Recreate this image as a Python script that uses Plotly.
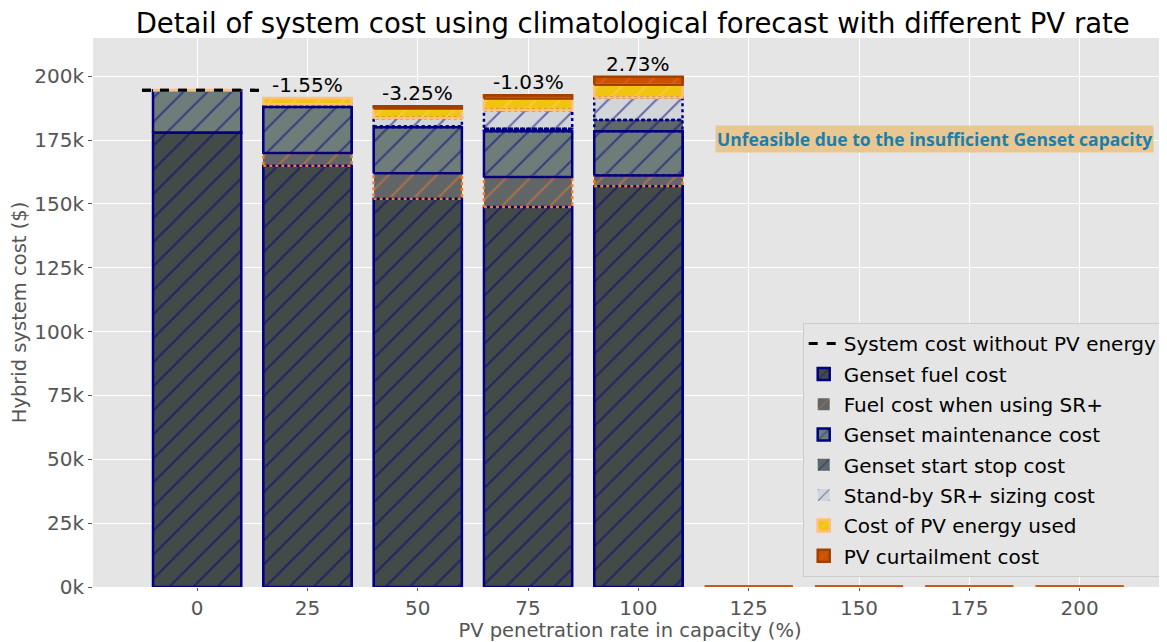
import plotly.graph_objects as go

# ---------------- data (thousands of $) ----------------
rates = [0, 25, 50, 75, 100, 125, 150, 175, 200]
rate_labels = ["0", "25", "50", "75", "100", "125", "150", "175", "200"]
fuel = [177.9, 165.0, 152.0, 148.8, 156.9, 0, 0, 0, 0]
fuel_sr = [0, 5.0, 10.0, 11.8, 4.3, 0, 0, 0, 0]
maint = [16.6, 18.0, 18.0, 17.9, 17.3, 0, 0, 0, 0]
startstop = [0, 0.3, 0.3, 1.0, 4.4, 0, 0, 0, 0]
standby = [0, 0.8, 3.4, 7.3, 8.8, 0, 0, 0, 0]
pv_used = [0, 2.4, 3.7, 4.5, 5.0, 0, 0, 0, 0]
curtail = [0, 0, 0.8, 1.2, 3.1, 0, 0, 0, 0]
base_cost = 194.5
pct_labels = ["", "-1.55%", "-3.25%", "-1.03%", "2.73%", "", "", "", ""]
y_ticks = [0, 25, 50, 75, 100, 125, 150, 175, 200]
y_tick_labels = ["0k", "25k", "50k", "75k", "100k", "125k", "150k", "175k", "200k"]
ref_line_x = [-12.5, 15]
note_text = "Unfeasible due to the insufficient Genset capacity"
note_pos = (167.2, 175.3)

NAVY = "#000080"
ORANGE = "#ed7d31"
BAR_W = 20

series = [
    # name, values, fill, edge, hatch, dotted
    ("Genset fuel cost", fuel, "#434b49", NAVY, NAVY, False),
    ("Fuel cost when using SR+", fuel_sr, "#626565", ORANGE, ORANGE, True),
    ("Genset maintenance cost", maint, "#6e7c7a", NAVY, NAVY, False),
    ("Genset start stop cost", startstop, "#5e6868", NAVY, NAVY, True),
    ("Stand-by SR+ sizing cost", standby, "#d2d6d8", NAVY, NAVY, True),
    ("Cost of PV energy used", pv_used, "#f2c40f", "#fdc07a", "#f8d860", False),
    ("PV curtailment cost", curtail, "#cc5000", "#a34000", "#e07030", False),
]

fig = go.Figure()

# reference dashed line (legend first)
fig.add_trace(go.Scatter(
    x=ref_line_x, y=[base_cost * 1000] * 2, mode="lines",
    line=dict(color="black", width=3, dash="dash"),
    name="System cost without PV energy", legendgroup="g0", showlegend=True,
))

cum = [0.0] * len(rates)
outlines = []
for k, (name, vals, fill, edge, hatch, dotted) in enumerate(series):
    fig.add_trace(go.Bar(
        x=rates, y=[v * 1000 for v in vals], width=BAR_W, name=name,
        legendgroup=f"g{k+1}",
        marker=dict(
            color=fill,
            line=dict(color=edge, width=0 if dotted else 2.5),
            pattern=dict(shape="/", fgcolor=hatch, size=17, solidity=0.12),
        ),
    ))
    xs, ys = [], []
    for i, r in enumerate(rates):
        if vals[i] > 0:
            b, t = cum[i] * 1000, (cum[i] + vals[i]) * 1000
            xs += [r - BAR_W / 2, r + BAR_W / 2, r + BAR_W / 2, r - BAR_W / 2, r - BAR_W / 2, None]
            ys += [b, b, t, t, b, None]
    outlines.append((xs, ys, edge, dotted))
    cum = [c + v for c, v in zip(cum, vals)]

# outlines drawn in stacking order (later segments over earlier ones)
for xs, ys, edge, dotted in outlines:
    fig.add_trace(go.Scatter(x=xs, y=ys, mode="lines", showlegend=False,
                             line=dict(color=edge, width=2.5, dash="dot" if dotted else "solid"),
                             hoverinfo="skip"))

# edges of zero-height bars
xs, ys = [], []
for i, r in enumerate(rates):
    if cum[i] == 0:
        xs += [r - BAR_W / 2, r + BAR_W / 2, None]
        ys += [0, 0, None]
fig.add_trace(go.Scatter(x=xs, y=ys, mode="lines", showlegend=False,
                         line=dict(color="#c85a1a", width=4), hoverinfo="skip"))
xs, ys = [], []
for i, r in enumerate(rates):
    if cum[i] > 0 and pv_used[i] == 0:
        xs += [r - BAR_W / 2, r + BAR_W / 2, None]
        ys += [cum[i] * 1000, cum[i] * 1000, None]
fig.add_trace(go.Scatter(x=xs, y=ys, mode="lines", showlegend=False,
                         line=dict(color="#fdc07a", width=3), hoverinfo="skip"))
# dashed line on top
fig.add_trace(go.Scatter(
    x=ref_line_x, y=[base_cost * 1000] * 2, mode="lines",
    line=dict(color="black", width=3, dash="dash"), showlegend=False, hoverinfo="skip",
))

for i, r in enumerate(rates):
    if pct_labels[i]:
        fig.add_annotation(x=r, y=cum[i] * 1000, text=pct_labels[i], showarrow=False,
                           yanchor="bottom", yshift=-1,
                           font=dict(family="DejaVu Sans", size=20, color="black"))

fig.add_annotation(x=note_pos[0], y=note_pos[1] * 1000, text="<b>" + note_text + "</b>",
                   showarrow=False, bgcolor="#e9c793", borderpad=1,
                   font=dict(family="Open Sans", size=17.5, color="#1b7fad"))

# page body has an 8px margin: size/margins compensate for it
fig.update_layout(
    width=1159, height=634,
    margin=dict(l=85, r=0, t=30, b=55),
    paper_bgcolor="white", plot_bgcolor="#E5E5E5",
    barmode="stack", bargap=0,
    font=dict(family="DejaVu Sans", color="#555555"),
    title=dict(text="Detail of system cost using climatological forecast with different PV rate",
               x=0.539, xanchor="center", y=0.975, yanchor="middle",
               font=dict(family="DejaVu Sans", size=27.5, color="black")),
    xaxis=dict(range=[-23.6, 219.8], tickvals=rates, ticktext=rate_labels,
               showgrid=True, gridcolor="white", gridwidth=1.2, zeroline=False,
               ticks="outside", ticklen=3, tickcolor="#555555",
               tickfont=dict(size=20, color="#555555"),
               title=dict(text="PV penetration rate in capacity (%)", standoff=0,
                          font=dict(size=19.5, color="#555555"))),
    yaxis=dict(range=[0, 215000], tickvals=[v * 1000 for v in y_ticks], ticktext=y_tick_labels,
               showgrid=True, gridcolor="white", gridwidth=1.2, zeroline=False,
               ticks="outside", ticklen=4, tickcolor="#555555",
               tickfont=dict(size=20, color="#555555"),
               title=dict(text="Hybrid system cost ($)", standoff=6,
                          font=dict(size=19.5, color="#555555"))),
    legend=dict(x=0.996, y=0.018, xanchor="right", yanchor="bottom",
                bgcolor="#E5E5E5", bordercolor="#cccccc", borderwidth=1,
                traceorder="grouped", tracegroupgap=1.3,
                font=dict(family="DejaVu Sans", size=20, color="black")),
    showlegend=True,
)

fig.write_html("out.html")
